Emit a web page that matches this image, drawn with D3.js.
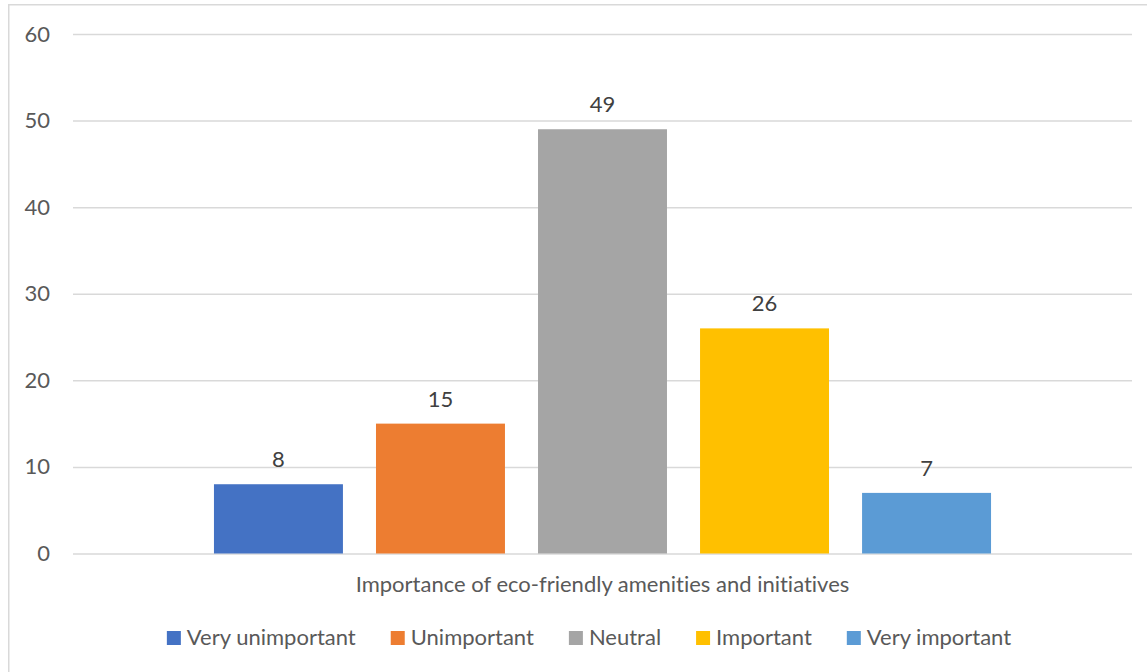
<!DOCTYPE html>
<html>
<head>
<meta charset="utf-8">
<script src="https://cdn.jsdelivr.net/npm/d3@7"></script>
<style>
  html, body { margin: 0; padding: 0; background: #fff; }
  svg text { font-family: Lato, "Open Sans", sans-serif; font-variant-ligatures: none; }
</style>
</head>
<body>
<svg id="chart" width="1147" height="672"></svg>
<script>
const categories = ["Importance of eco-friendly amenities and initiatives"];
const seriesNames = ["Very unimportant", "Unimportant", "Neutral", "Important", "Very important"];
const seriesValues = [8, 15, 49, 26, 7];
const seriesColors = ["#4472C4", "#ED7D31", "#A5A5A5", "#FFC000", "#5B9BD5"];
const yTicks = [0, 10, 20, 30, 40, 50, 60];

const svg = d3.select("#chart");
const plot = { left: 73, right: 1132, top: 34, bottom: 553.5 };
const fontSize = 22;

// chart frame
svg.append("rect")
  .attr("x", 8.75).attr("y", 4.75)
  .attr("width", 1160).attr("height", 700)
  .attr("fill", "#fff").attr("stroke", "#d9d9d9").attr("stroke-width", 1.5);

const y = d3.scaleLinear().domain([0, 60]).range([plot.bottom, plot.top]);
const x0 = d3.scaleBand().domain(categories).range([plot.left, plot.right]).padding(0);
const x1 = d3.scaleBand().domain(seriesNames).range([0, x0.bandwidth()])
  .paddingInner(0.204).paddingOuter(0.87);

// gridlines + tick labels
const yAxis = d3.axisLeft(y).tickValues(yTicks).tickSize(-(plot.right - plot.left)).tickPadding(23);
const gy = svg.append("g").attr("transform", `translate(${plot.left},0)`).call(yAxis);
gy.select(".domain").remove();
gy.selectAll(".tick line").attr("stroke", "#d9d9d9").attr("stroke-width", 1.5);
gy.selectAll(".tick text")
  .attr("fill", "#595959").attr("font-size", fontSize)
  .style("font-family", "Lato, 'Open Sans', sans-serif");

// bars
const data = seriesNames.map((s, i) => ({ name: s, value: seriesValues[i], color: seriesColors[i] }));
const cat = svg.append("g").attr("transform", `translate(${x0(categories[0])},0)`);
cat.selectAll("rect.bar").data(data).enter().append("rect")
  .attr("class", "bar")
  .attr("x", d => x1(d.name))
  .attr("width", x1.bandwidth())
  .attr("y", d => y(d.value))
  .attr("height", d => y(0) - y(d.value))
  .attr("fill", d => d.color);

// data labels
cat.selectAll("text.lbl").data(data).enter().append("text")
  .attr("class", "lbl")
  .attr("x", d => x1(d.name) + x1.bandwidth() / 2)
  .attr("y", d => y(d.value) - 17)
  .attr("text-anchor", "middle")
  .attr("fill", "#404040").attr("font-size", fontSize)
  .text(d => d.value);

// category axis label
svg.append("text")
  .attr("x", x0(categories[0]) + x0.bandwidth() / 2)
  .attr("y", 592)
  .attr("text-anchor", "middle")
  .attr("fill", "#595959").attr("font-size", fontSize)
  .text(categories[0]);

// legend
const legend = svg.append("g");
const items = legend.selectAll("g.item").data(data).enter().append("g").attr("class", "item");
items.append("rect").attr("width", 14).attr("height", 14).attr("y", 631).attr("fill", d => d.color);
items.append("text").attr("x", 20).attr("y", 645)
  .attr("fill", "#595959").attr("font-size", fontSize).text(d => d.name);
const gap = 35;
const widths = items.nodes().map(n => 20 + d3.select(n).select("text").node().getComputedTextLength());
const total = d3.sum(widths) + gap * (widths.length - 1);
let start = 589 - total / 2;
items.each(function (d, i) {
  d3.select(this).attr("transform", `translate(${start},0)`);
  start += widths[i] + gap;
});
</script>
</body>
</html>
